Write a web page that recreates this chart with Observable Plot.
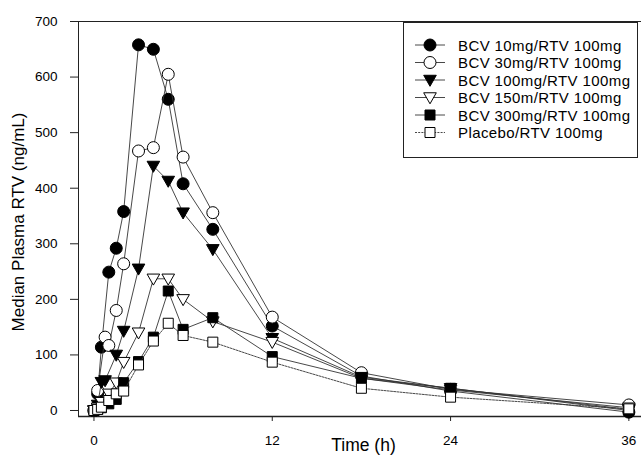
<!DOCTYPE html>
<html><head><meta charset="utf-8">
<script src="https://cdn.jsdelivr.net/npm/d3@7"></script>
<script src="https://cdn.jsdelivr.net/npm/@observablehq/plot@0.6"></script>
<style>
body{margin:0;background:#fff;}
#wrap{position:relative;width:641px;height:455px;font-family:"Liberation Sans",Arial,sans-serif;}
#legend{position:absolute;left:403px;top:22px;}
</style></head>
<body><div id="wrap"></div>
<script>
// ---- data ----
const times   = [0, 0.25, 0.5, 0.75, 1, 1.5, 2, 3, 4, 5, 6, 8, 12, 18, 24, 36];
const bcv10   = [0, 30, 114, null, 249, 292, 358, 658, 650, 560, 408, 326, 152, 62, 35, -3];
const bcv30   = [0, 36, null, 132, 117, 180, 264, 467, 473, 605, 456, 356, 168, 68, 38, 10];
const bcv100  = [0, 10, 51, 54, null, 100, 143, 255, 440, 413, 356, 290, 130, 60, 40, 2];
const bcv150  = [0, 5, 15, null, 30, 50, 87, 140, 237, 237, 200, 160, 123, 58, 37, 5];
const bcv300  = [0, 2, 5, null, 12, 20, 50, 88, 132, 215, 146, 167, 97, 58, 40, 0];
const placebo = [0, 2, 6, null, 18, 30, 35, 82, 125, 157, 135, 123, 87, 40, 24, 3];
const seriesNames = ["BCV 10mg/RTV 100mg", "BCV 30mg/RTV 100mg", "BCV 100mg/RTV 100mg",
  "BCV 150m/RTV 100mg", "BCV 300mg/RTV 100mg", "Placebo/RTV 100mg"];
const xTicks = [0, 12, 24, 36];
const yTicks = [0, 100, 200, 300, 400, 500, 600, 700];
const xDomain = [-1.04, 36.85];
const yDomain = [-10.8, 700];

// ---- symbols ----
const triDown = {draw(ctx, size) { const r = Math.sqrt(size / Math.PI);
  ctx.moveTo(-r, -0.75 * r); ctx.lineTo(r, -0.75 * r); ctx.lineTo(0, r); ctx.closePath(); }};
const squareSym = {draw(ctx, size) { const r = Math.sqrt(size / Math.PI);
  ctx.moveTo(-r, -r); ctx.lineTo(r, -r); ctx.lineTo(r, r); ctx.lineTo(-r, r); ctx.closePath(); }};

const seriesValues = [bcv10, bcv30, bcv100, bcv150, bcv300, placebo];
const looks = [
  {symbol: "circle", fill: "#000", r: 6},
  {symbol: "circle", fill: "#fff", r: 6},
  {symbol: triDown, fill: "#000", r: 6.3},
  {symbol: triDown, fill: "#fff", r: 6.3},
  {symbol: squareSym, fill: "#000", r: 5},
  {symbol: squareSym, fill: "#fff", r: 5}
];

const marks = [];
seriesValues.forEach((vals, i) => {
  const rows = times.map((t, j) => ({t, v: vals[j]})).filter(d => d.v != null);
  const lk = looks[i];
  marks.push(Plot.line(rows, {x: "t", y: "v", stroke: "#333", strokeWidth: 0.9,
    strokeDasharray: i === 5 ? "2,1.2" : null}));
  marks.push(Plot.dot(rows, {x: "t", y: "v", symbol: lk.symbol, r: lk.r, fill: lk.fill,
    stroke: "#000", strokeWidth: 1}));
});

const chart = Plot.plot({
  width: 641, height: 455,
  marginLeft: 78, marginRight: 0, marginTop: 21, marginBottom: 39,
  style: {fontFamily: "Liberation Sans, Arial, sans-serif", fontSize: "13.5px", color: "#000", background: "#fff", overflow: "hidden"},
  x: {domain: xDomain, label: null},
  y: {domain: yDomain, label: null},
  marks: [
    Plot.ruleY([yDomain[1]], {stroke: "#222", strokeWidth: 1}),
    Plot.ruleY([yDomain[0]], {stroke: "#222", strokeWidth: 1.5}),
    Plot.ruleX([xDomain[0]], {stroke: "#222", strokeWidth: 1}),
    Plot.axisX({ticks: xTicks, tickSize: 5, tickPadding: 14, label: null, stroke: "#222"}),
    Plot.axisY({ticks: yTicks, tickSize: 8, tickPadding: 13, label: null, stroke: "#222"}),
    Plot.text(["Time (h)"], {frameAnchor: "bottom", dx: 3.5, dy: 34, fontSize: 17.5, fill: "#000"}),
    Plot.text(["Median Plasma RTV (ng/mL)"], {frameAnchor: "left", textAnchor: "middle", lineAnchor: "middle",
      rotate: -90, dx: -60, dy: 3, fontSize: 17, fill: "#000"}),
    ...marks
  ]
});
document.getElementById("wrap").appendChild(chart);

// ---- legend ----
const lw = 235, lh = 136;
const leg = d3.select("#wrap").append("svg").attr("id", "legend").attr("width", lw).attr("height", lh);
leg.append("rect").attr("x", 0.5).attr("y", 0.5).attr("width", lw - 1).attr("height", lh - 1)
  .attr("fill", "#fff").attr("stroke", "#222");
const symMap = {circle: d3.symbolCircle};
seriesNames.forEach((name, i) => {
  const y = 23 + 17.5 * i;
  const lk = looks[i];
  const g = leg.append("g").attr("transform", `translate(0,${y})`);
  g.append("line").attr("x1", 12).attr("x2", 42).attr("y1", 0).attr("y2", 0)
    .attr("stroke", "#333").attr("stroke-width", 0.9).attr("stroke-dasharray", i === 5 ? "2,1.2" : null);
  const sym = typeof lk.symbol === "string" ? symMap[lk.symbol] : lk.symbol;
  g.append("path").attr("transform", "translate(27,0)")
    .attr("d", d3.symbol(sym, lk.r * lk.r * Math.PI)())
    .attr("fill", lk.fill).attr("stroke", "#000").attr("stroke-width", 1);
  g.append("text").attr("x", 55).attr("y", 5.5).text(name)
    .attr("font-family", "Liberation Sans, Arial, sans-serif").attr("font-size", 15)
    .attr("letter-spacing", 0.4).attr("fill", "#000");
});
</script></body></html>
